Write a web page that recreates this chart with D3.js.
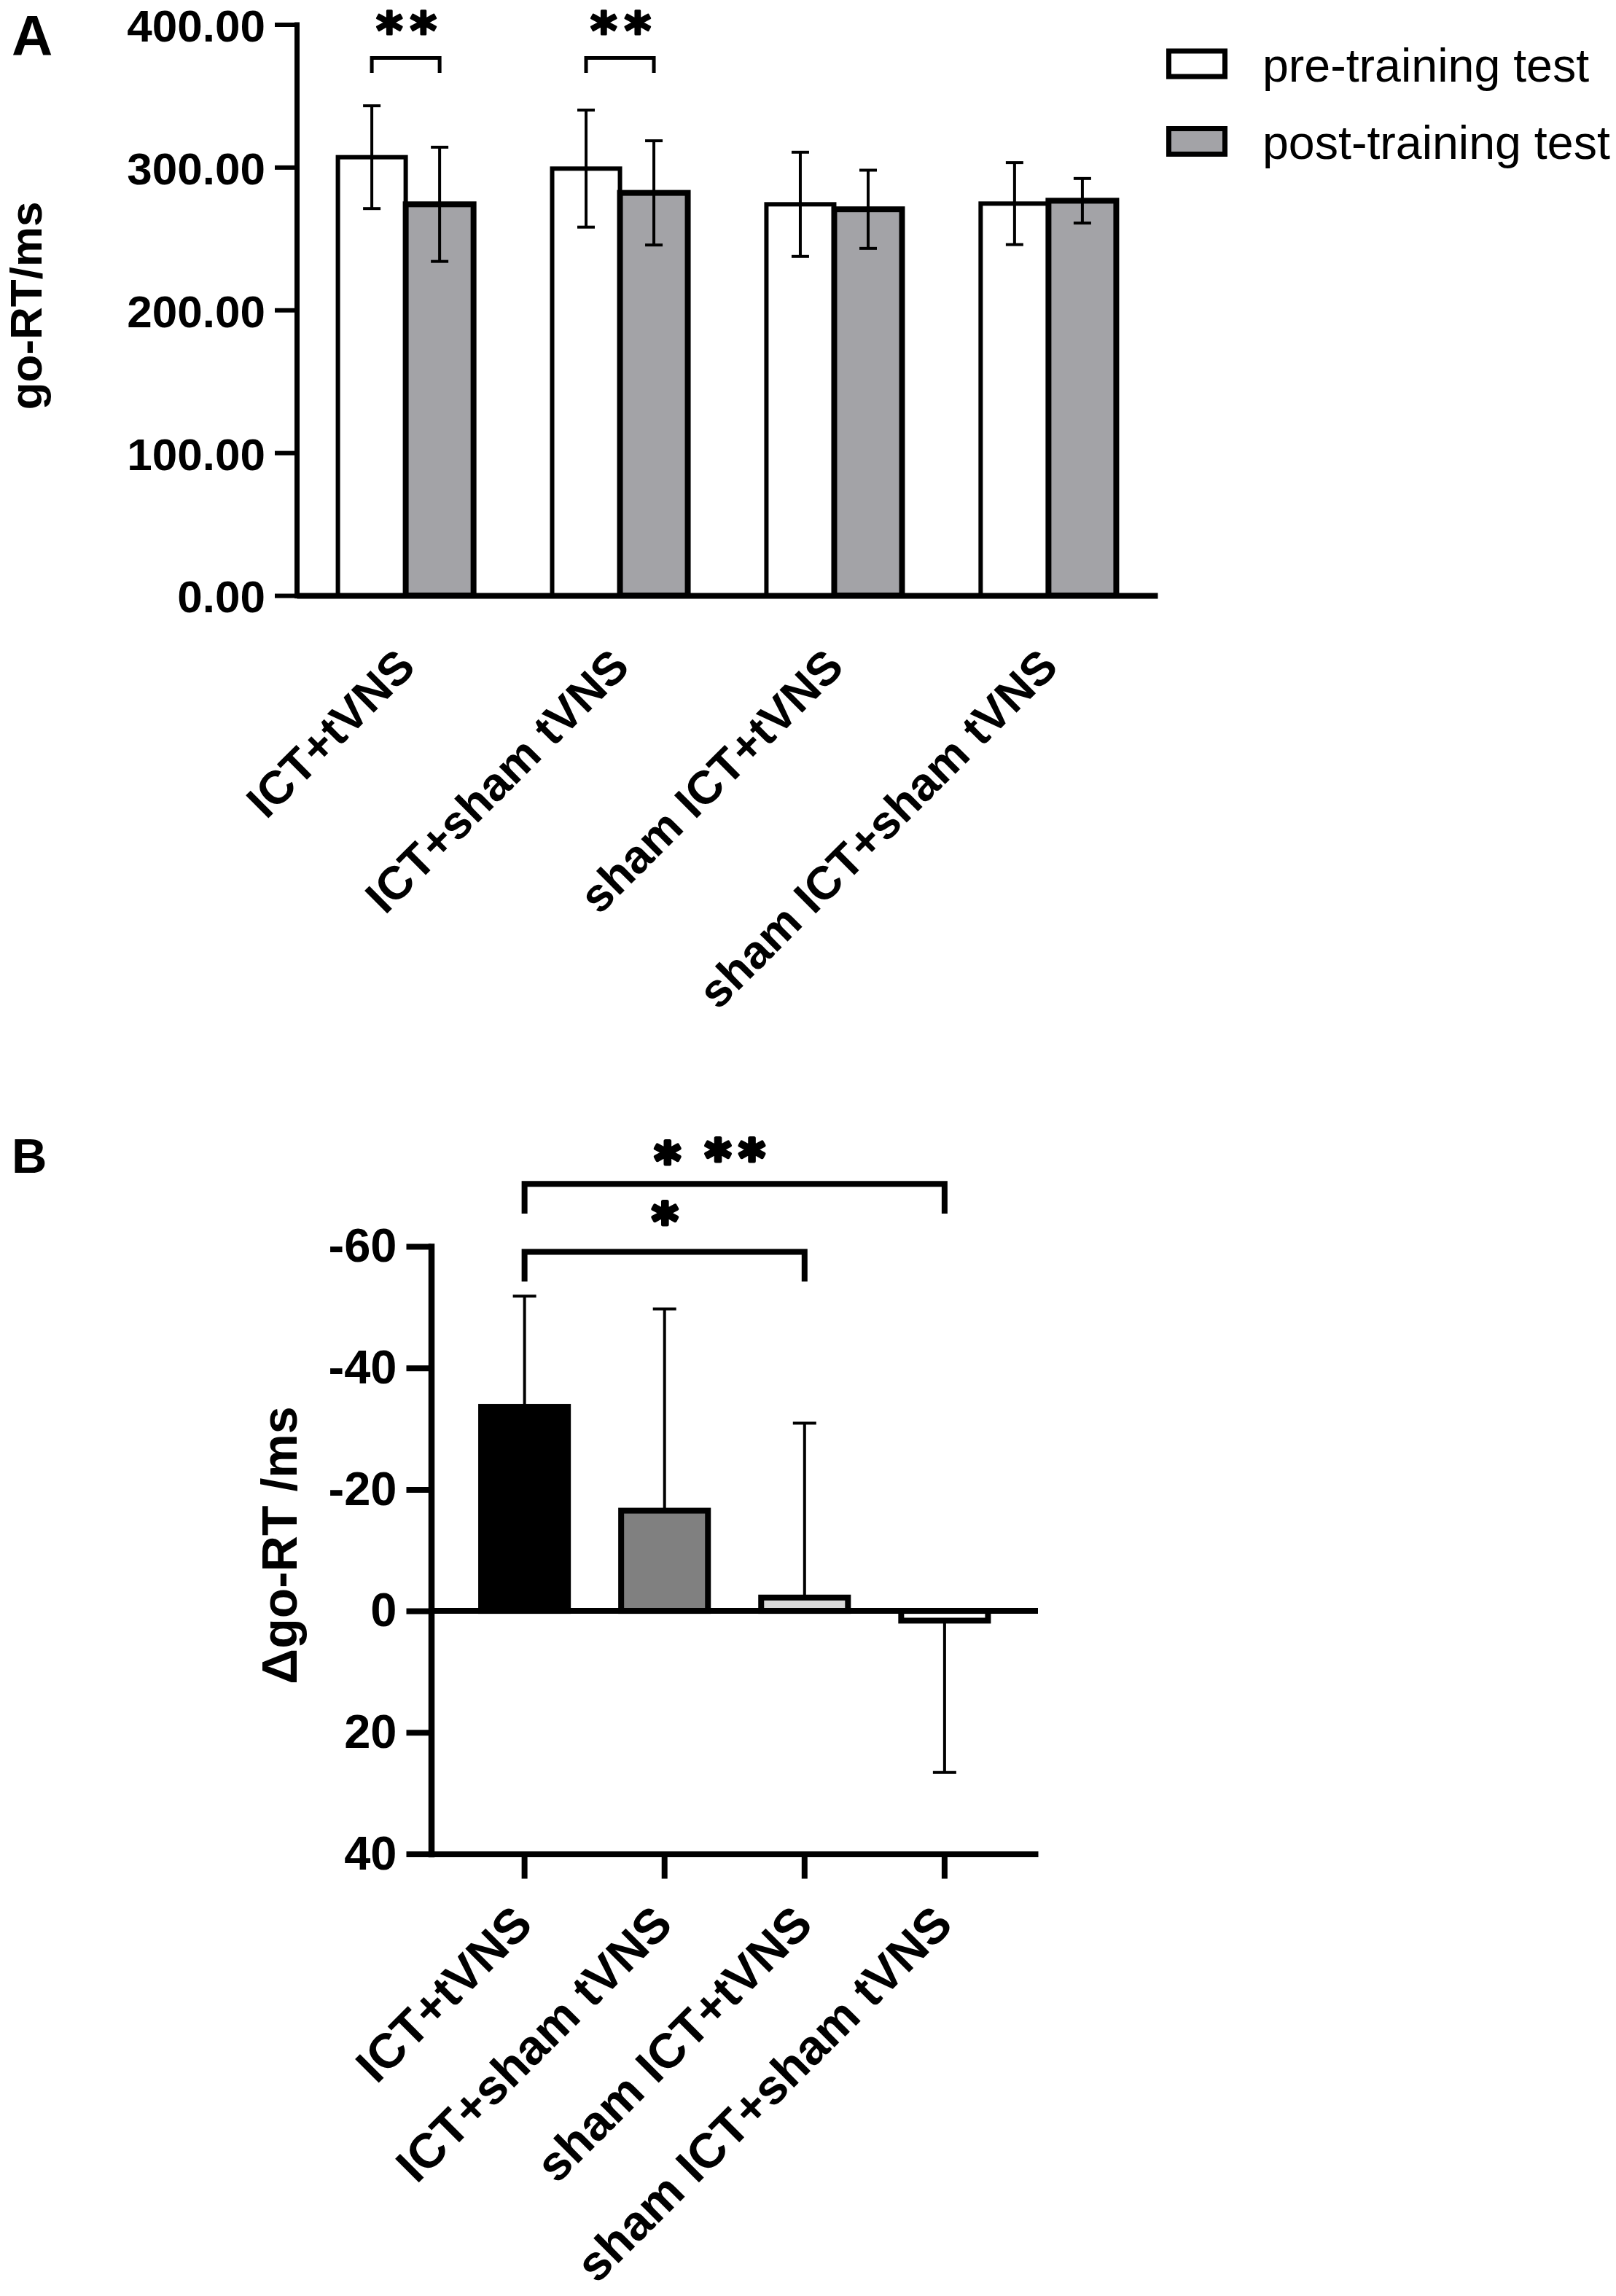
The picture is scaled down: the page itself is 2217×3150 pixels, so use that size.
<!DOCTYPE html>
<html>
<head>
<meta charset="utf-8">
<script src="https://cdn.jsdelivr.net/npm/d3@7"></script>
<style>
  body { margin: 0; background: #fff; }
  text { font-family: "Liberation Sans", Arial, sans-serif; fill: #000; }
  .bold { font-weight: bold; }
  .star { font-family: "DejaVu Sans", sans-serif; font-weight: bold; stroke: #000; stroke-linejoin: round; }
</style>
</head>
<body>
<script>
// ---- data ----
const groups = ["ICT+tVNS", "ICT+sham tVNS", "sham ICT+tVNS", "sham ICT+sham tVNS"];
const phases = ["pre", "post"];
const legendLabels = ["pre-training test", "post-training test"];

// panel A : go-RT (ms), mean and error
const preMean  = [307, 299, 274, 274.5];
const preErr   = [36, 41, 36.5, 28.7];
const postMean = [274, 282, 270.5, 276.5];
const postErr  = [40, 36.5, 27.4, 15.6];
const ticksA = [0, 100, 200, 300, 400];
const sigA = ["**", "**", "", ""];          // pre vs post, per group

// panel B : delta go-RT (ms)
const deltaMean = [-33.6, -16.5, -2.2, 1.6];
const deltaErr  = [18.2, 33.2, 28.7, 25];
const deltaFill = ["#000000", "#808080", "#d9d9d9", "#ffffff"];
const ticksB = [-60, -40, -20, 0, 20, 40];
const sigBFrom = [0, 0];
const sigBTo   = [3, 2];
const sigBText = ["**", "*"];
const sigBLevel = [-70.3, -59.1];           // bracket height, data units

const W = 2217, H = 3150;
const svg = d3.select("body").append("svg")
  .attr("width", W).attr("height", H)
  .style("background", "#fff");

// =================== panel A ===================
const yA = d3.scaleLinear().domain([0, 400]).range([817, 33.5]);
const xA = d3.scaleBand().domain(groups).range([407, 1588])
  .paddingInner(0.367).paddingOuter(0.1925);
const xA1 = d3.scaleBand().domain(phases).range([0, xA.bandwidth()]);

const gA = svg.append("g");

// bars, pre first so the thicker post outline sits on top
groups.forEach(function(g, i) {
  gA.append("rect")
    .attr("x", xA(g) + xA1("pre")).attr("y", yA(preMean[i]))
    .attr("width", xA1.bandwidth()).attr("height", yA(0) - yA(preMean[i]))
    .attr("fill", "#fff").attr("stroke", "#000").attr("stroke-width", 6);
  gA.append("rect")
    .attr("x", xA(g) + xA1("post")).attr("y", yA(postMean[i]))
    .attr("width", xA1.bandwidth()).attr("height", yA(0) - yA(postMean[i]))
    .attr("fill", "#a3a3a7").attr("stroke", "#000").attr("stroke-width", 8);
});

// error bars (both directions)
function errBar(g, cx, lo, hi, capW, sw) {
  g.append("line").attr("x1", cx).attr("x2", cx).attr("y1", lo).attr("y2", hi)
    .attr("stroke", "#000").attr("stroke-width", sw);
  [lo, hi].forEach(function(y) {
    g.append("line").attr("x1", cx - capW / 2).attr("x2", cx + capW / 2)
      .attr("y1", y).attr("y2", y).attr("stroke", "#000").attr("stroke-width", sw);
  });
}
groups.forEach(function(g, i) {
  const cPre = xA(g) + xA1("pre") + xA1.bandwidth() / 2;
  const cPost = xA(g) + xA1("post") + xA1.bandwidth() / 2;
  errBar(gA, cPre, yA(preMean[i] - preErr[i]), yA(preMean[i] + preErr[i]), 24, 4);
  errBar(gA, cPost, yA(postMean[i] - postErr[i]), yA(postMean[i] + postErr[i]), 24, 4);
});

// axes
const axA = gA.append("g").attr("transform", "translate(407,0)")
  .call(d3.axisLeft(yA).tickValues(ticksA).tickFormat(d3.format(".2f"))
    .tickSize(30).tickSizeOuter(0).tickPadding(13));
axA.select(".domain").attr("stroke-width", 7).attr("stroke-linecap", "square");
axA.selectAll(".tick line").attr("stroke-width", 6);
axA.selectAll(".tick text").attr("class", "bold").style("font-size", "62px")
  .attr("dy", "0.37em");

const axAx = gA.append("g").attr("transform", "translate(0," + yA(0) + ")")
  .call(d3.axisBottom(xA).tickSize(0).tickSizeOuter(0));
axAx.select(".domain").attr("stroke-width", 8);
axAx.selectAll(".tick text")
  .attr("class", "bold").style("font-size", "64px")
  .attr("x", 0).attr("y", 0).attr("dy", null)
  .attr("text-anchor", "end")
  .attr("transform", "translate(16,101) rotate(-45)");

gA.append("text").attr("class", "bold").style("font-size", "62px")
  .attr("text-anchor", "middle")
  .attr("transform", "translate(57," + yA(203) + ") rotate(-90)")
  .text("go-RT/ms");

gA.append("text").attr("class", "bold").style("font-size", "78px")
  .attr("x", 16).attr("y", 76).text("A");

// significance brackets, pre vs post
groups.forEach(function(g, i) {
  if (!sigA[i]) return;
  const x1 = xA(g) + xA1("pre") + xA1.bandwidth() / 2;
  const x2 = xA(g) + xA1("post") + xA1.bandwidth() / 2;
  const yb = yA(376.5), yl = yA(366);
  gA.append("path")
    .attr("d", "M" + x1 + "," + yl + "V" + yb + "H" + x2 + "V" + yl)
    .attr("fill", "none").attr("stroke", "#000").attr("stroke-width", 5);
  gA.append("text").attr("class", "star").style("font-size", "70px")
    .style("letter-spacing", "10px").attr("stroke-width", 3)
    .attr("x", (x1 + x2) / 2 + 6).attr("y", yb - 13.5).attr("text-anchor", "middle")
    .text(sigA[i]);
});

// legend
const legY = [70, 176.5];
const legFill = ["#fff", "#a3a3a7"];
legendLabels.forEach(function(lab, i) {
  gA.append("rect").attr("x", 1603.5).attr("y", legY[i]).attr("width", 77).attr("height", 35)
    .attr("fill", legFill[i]).attr("stroke", "#000").attr("stroke-width", 7);
  gA.append("text").style("font-size", "64.5px")
    .attr("x", 1732).attr("y", legY[i] + 41.7)
    .text(lab);
});

// =================== panel B ===================
const yB = d3.scaleLinear().domain([-60, 40]).range([1710, 2543.5]);
const xB = d3.scaleBand().domain(groups).range([591.5, 1424])
  .paddingInner(0.38).paddingOuter(0.357);
const gB = svg.append("g");

groups.forEach(function(g, i) {
  const v = deltaMean[i];
  gB.append("rect")
    .attr("x", xB(g)).attr("y", yB(Math.min(v, 0)))
    .attr("width", xB.bandwidth()).attr("height", Math.abs(yB(v) - yB(0)))
    .attr("fill", deltaFill[i]).attr("stroke", "#000").attr("stroke-width", 8);
});

// one-sided error bars, pointing away from zero
groups.forEach(function(g, i) {
  const v = deltaMean[i];
  const end = v + Math.sign(v) * deltaErr[i];
  const cx = xB(g) + xB.bandwidth() / 2;
  gB.append("line").attr("x1", cx).attr("x2", cx).attr("y1", yB(v)).attr("y2", yB(end))
    .attr("stroke", "#000").attr("stroke-width", 4);
  gB.append("line").attr("x1", cx - 16).attr("x2", cx + 16)
    .attr("y1", yB(end)).attr("y2", yB(end))
    .attr("stroke", "#000").attr("stroke-width", 4);
});

// zero line
gB.append("line").attr("x1", xB.range()[0]).attr("x2", xB.range()[1])
  .attr("y1", yB(0)).attr("y2", yB(0)).attr("stroke", "#000").attr("stroke-width", 8);

const axB = gB.append("g").attr("transform", "translate(591.5,0)")
  .call(d3.axisLeft(yB).tickValues(ticksB).tickFormat(d => String(d))
    .tickSize(34).tickSizeOuter(0).tickPadding(13));
axB.select(".domain").attr("stroke-width", 8.5).attr("stroke-linecap", "square");
axB.selectAll(".tick line").attr("stroke-width", 8);
axB.selectAll(".tick text").attr("class", "bold").style("font-size", "65px");

const axBx = gB.append("g").attr("transform", "translate(0," + yB(40) + ")")
  .call(d3.axisBottom(xB).tickSize(34).tickSizeOuter(0));
axBx.select(".domain").attr("stroke-width", 8);
axBx.selectAll(".tick line").attr("stroke-width", 8);
axBx.selectAll(".tick text")
  .attr("class", "bold").style("font-size", "67px")
  .attr("x", 0).attr("y", 0).attr("dy", null)
  .attr("text-anchor", "end")
  .attr("transform", "translate(14,100) rotate(-45)");

gB.append("text").attr("class", "bold").style("font-size", "68px")
  .attr("text-anchor", "middle")
  .attr("transform", "translate(407," + yB(-10.8) + ") rotate(-90)")
  .text("\u0394go-RT /ms");

gB.append("text").attr("class", "bold").style("font-size", "67px")
  .attr("x", 16).attr("y", 1609).text("B");

// brackets between groups
const mid = g => xB(g) + xB.bandwidth() / 2;
sigBFrom.forEach(function(f, k) {
  const x1 = mid(groups[f]), x2 = mid(groups[sigBTo[k]]);
  const yb = yB(sigBLevel[k]), yl = yB(sigBLevel[k] + 4.9);
  gB.append("path")
    .attr("d", "M" + x1 + "," + yl + "V" + yb + "H" + x2 + "V" + yl)
    .attr("fill", "none").attr("stroke", "#000").attr("stroke-width", 8);
  gB.append("text").attr("class", "star").style("font-size", "68px")
    .attr("stroke-width", 5).style("letter-spacing", "11px")
    .attr("text-anchor", "middle")
    .attr("x", (x1 + x2) / 2 + 6).attr("y", yb - (k === 0 ? 12 : 19))
    .text(sigBText[k]);
});
// the figure repeats the single star next to the top label
gB.append("text").attr("class", "star").style("font-size", "68px")
  .attr("stroke-width", 5).attr("text-anchor", "middle")
  .attr("x", (mid(groups[0]) + mid(groups[2])) / 2 + 4).attr("y", yB(sigBLevel[0]) - 8)
  .text(sigBText[1]);
</script>
</body>
</html>
